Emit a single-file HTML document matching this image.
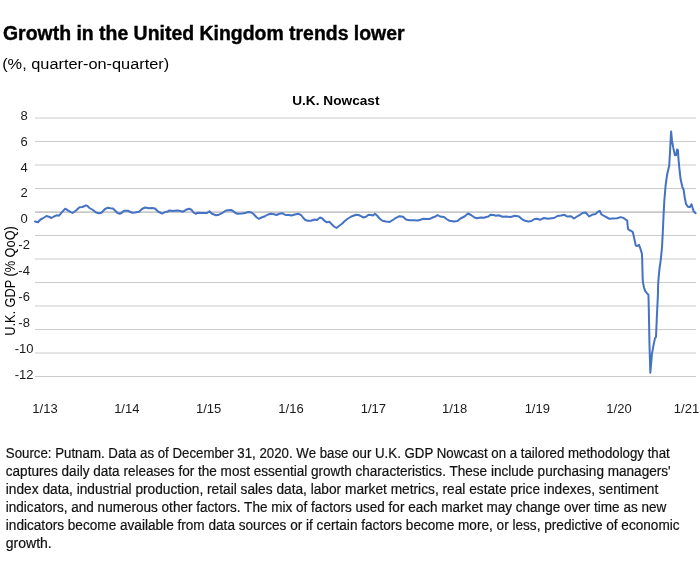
<!DOCTYPE html>
<html><head><meta charset="utf-8"><style>
html,body{margin:0;padding:0;background:#fff;width:700px;height:580px;overflow:hidden}
svg{display:block;will-change:transform}
text{font-family:"Liberation Sans",sans-serif;fill:#000}
.ax{font-size:13px;fill:#1a1a1a}
.ft{font-size:14px;fill:#111;stroke:#111;stroke-width:0.2px}
</style></head><body>
<svg width="700" height="580" viewBox="0 0 700 580">
<text x="3" y="39.5" font-size="19.5" font-weight="bold" stroke="#000" stroke-width="0.4" textLength="401.6" lengthAdjust="spacingAndGlyphs">Growth in the United Kingdom trends lower</text>
<text x="2.2" y="69.4" font-size="15.5" fill="#1a1a1a" textLength="167" lengthAdjust="spacingAndGlyphs">(%, quarter-on-quarter)</text>
<text x="292.2" y="105.4" font-size="12.8" font-weight="bold" textLength="87.3" lengthAdjust="spacingAndGlyphs">U.K. Nowcast</text>
<line x1="35" x2="696" y1="118.00" y2="118.00" stroke="#CCCCCC" stroke-width="1.2"/><line x1="35" x2="696" y1="141.50" y2="141.50" stroke="#CCCCCC" stroke-width="1.2"/><line x1="35" x2="696" y1="165.00" y2="165.00" stroke="#CCCCCC" stroke-width="1.2"/><line x1="35" x2="696" y1="188.50" y2="188.50" stroke="#CCCCCC" stroke-width="1.2"/><line x1="35" x2="696" y1="212.1" y2="212.1" stroke="#C8C8C8" stroke-width="1.7"/><line x1="35" x2="696" y1="235.50" y2="235.50" stroke="#CCCCCC" stroke-width="1.2"/><line x1="35" x2="696" y1="259.00" y2="259.00" stroke="#CCCCCC" stroke-width="1.2"/><line x1="35" x2="696" y1="282.50" y2="282.50" stroke="#CCCCCC" stroke-width="1.2"/><line x1="35" x2="696" y1="306.00" y2="306.00" stroke="#CCCCCC" stroke-width="1.2"/><line x1="35" x2="696" y1="329.50" y2="329.50" stroke="#CCCCCC" stroke-width="1.2"/><line x1="35" x2="696" y1="353.00" y2="353.00" stroke="#CCCCCC" stroke-width="1.2"/><line x1="35" x2="696" y1="376.50" y2="376.50" stroke="#CCCCCC" stroke-width="1.2"/>
<text x="24.1" y="119.55" text-anchor="middle" class="ax">8</text><text x="24.1" y="145.53" text-anchor="middle" class="ax">6</text><text x="24.1" y="171.51" text-anchor="middle" class="ax">4</text><text x="24.1" y="197.49" text-anchor="middle" class="ax">2</text><text x="24.1" y="223.47" text-anchor="middle" class="ax">0</text><text x="24.1" y="249.45" text-anchor="middle" class="ax">-2</text><text x="24.1" y="275.43" text-anchor="middle" class="ax">-4</text><text x="24.1" y="301.41" text-anchor="middle" class="ax">-6</text><text x="24.1" y="327.39" text-anchor="middle" class="ax">-8</text><text x="24.1" y="353.37" text-anchor="middle" class="ax">-10</text><text x="24.1" y="379.35" text-anchor="middle" class="ax">-12</text>
<text x="45.0" y="412.6" text-anchor="middle" class="ax">1/13</text><text x="126.8" y="412.6" text-anchor="middle" class="ax">1/14</text><text x="208.7" y="412.6" text-anchor="middle" class="ax">1/15</text><text x="291.0" y="412.6" text-anchor="middle" class="ax">1/16</text><text x="373.4" y="412.6" text-anchor="middle" class="ax">1/17</text><text x="454.7" y="412.6" text-anchor="middle" class="ax">1/18</text><text x="537.3" y="412.6" text-anchor="middle" class="ax">1/19</text><text x="619.0" y="412.6" text-anchor="middle" class="ax">1/20</text><text x="686.5" y="412.6" text-anchor="middle" class="ax">1/21</text>
<text transform="translate(14.9 335.8) rotate(-90)" x="0" y="0" font-size="14" fill="#1a1a1a" textLength="109.6" lengthAdjust="spacingAndGlyphs">U.K. GDP (% QoQ)</text>
<path d="M35 221.5 L38 222.2 L40.5 219.5 L42.5 218.5 L46.5 216 L49.5 217 L51.5 218 L54 216.5 L56.5 215.3 L59 215.7 L62 212.2 L65.2 208.7 L67.5 210.2 L69.5 211.3 L72.5 213 L76 210.5 L79.5 207.3 L82.5 207 L86 205.3 L87.2 205.8 L89.5 208 L93 210 L96 212.5 L99 213.3 L101.5 212.8 L105 209 L108 207.7 L110.5 208.3 L113 208.5 L115.5 211 L117.5 213 L120 213.7 L121.5 213 L124 210.8 L128 210.7 L130 211.8 L132.5 212.8 L135 212.5 L139 211.8 L142 209 L145 207.5 L149 208.2 L152 208 L155 208.5 L158 211.5 L161 213 L162.5 213.5 L165 212 L167 211.8 L169.5 210.5 L173 211 L177 210.5 L180.5 211 L183 211.7 L186 209.8 L189 208.8 L191.5 209.8 L193.5 212.5 L195.5 213.7 L198 212.8 L202 213 L207 213 L209.5 211.3 L212 213.8 L216 215.3 L219 214.7 L222 213.2 L225.5 210.7 L228 210.2 L231 210 L233 211 L235 212.8 L237.5 213.8 L242 213.5 L245 213 L248.5 212 L251.5 212.5 L254 214.5 L256.5 217.2 L258.8 218.8 L261.5 217.5 L265 216.2 L268 214.5 L271 213.8 L274 214.2 L276.5 215 L279.5 213.8 L282.5 213.3 L285.5 215 L289 215 L291.5 215.5 L293 215 L296 214.2 L298.5 213.8 L301 215 L303 217.5 L305 219.8 L307.5 220.8 L311 220.8 L314.5 219.5 L317 220 L320 217.5 L322 218.2 L324.5 220.8 L327 222.3 L329.5 221.8 L331.5 224 L334 226.5 L336.5 228 L339 226 L342 223.8 L345 220.8 L348 218.5 L352 216.2 L356 214.8 L358.5 215 L361 216.2 L363.5 217.5 L366 216.8 L368.5 214.8 L371 215 L373 215.5 L375 213.8 L377 215.5 L379.5 218.5 L382.5 220.8 L386 221.5 L389.5 222 L392.5 220.2 L396 217.8 L399.5 216.2 L403 216.8 L406 219.5 L409.5 220.2 L414 220.2 L418 220.5 L422 219.2 L423.5 218.8 L427 219 L429.5 219 L432 217.8 L435.5 216.5 L437.5 215 L440 216.5 L444 217 L446.5 219 L449.5 220.8 L454 221.5 L457.5 221 L460.5 218.5 L464.5 216.5 L468 213.5 L471 215 L474.5 217.5 L477 218.2 L480.5 217.5 L484 217.8 L487 216.8 L488.5 216.5 L490.5 214.8 L493.5 215 L496 215.8 L498.5 215.2 L502.5 216.8 L506 216.5 L510.5 217 L515 215.8 L519 216.5 L522 219.2 L525 220.8 L528.5 221.5 L531.5 221 L534 219.2 L537 218.8 L540 219.8 L544 218 L548 218.8 L551.5 218.2 L554 218 L557.5 216 L561 215.5 L564.5 214.8 L567 216.5 L571 216.2 L574 218.5 L577 216.5 L580 214.8 L582.5 213 L585.5 212.5 L587.5 214.5 L589 216.5 L592 214.8 L595.5 214 L598 211.8 L599.8 210.8 L601.5 214.5 L604.5 216.2 L607 217.5 L609.5 218.8 L613 218.5 L617 218.2 L620.7 217.1 L623.3 217.9 L625.3 219.3 L627.2 220.5 L627.6 225.2 L628.1 229 L629.5 230.3 L631 230.8 L632.8 232.1 L633.6 235.5 L634.6 240.1 L635.7 245.3 L636.9 246.1 L639 244.8 L640.3 248.4 L641.9 253.6 L642.2 258.7 L642.6 276.6 L642.9 282.2 L644.1 287.8 L645.3 291.2 L647.1 293.4 L648.4 294.8 L648.6 299.8 L649.1 324.3 L649.5 345.8 L650 361.4 L650.3 372.7 L650.9 366.5 L651.9 354.1 L653.4 345.9 L655 338.1 L656 337.1 L656.9 316 L657.9 295 L658.1 285.2 L658.7 276.6 L659.6 267.9 L660.7 260.2 L662 247.6 L662.8 232.1 L663.5 216.6 L664.3 201.1 L665.6 185.5 L667.1 174.7 L667.8 171.7 L669.2 165.5 L669.9 154.1 L670.6 140.7 L671.1 131.4 L672 140.7 L673.3 147.9 L674.9 155.2 L676.1 155.2 L677.1 149.5 L677.9 150 L678.5 159.3 L679.4 168.6 L680.6 179.3 L682.2 186.3 L683.7 190.2 L684.8 198 L686.1 204.2 L688.1 207 L689.9 207 L691.5 204.2 L692.6 208 L693.8 211.6 L695.7 213.2" fill="none" stroke="#4472C4" stroke-width="2" stroke-linejoin="round" stroke-linecap="round"/>
<text x="5.8" y="458.30" class="ft" textLength="664" lengthAdjust="spacingAndGlyphs">Source: Putnam. Data as of December 31, 2020. We base our U.K. GDP Nowcast on a tailored methodology that</text><text x="5.8" y="476.30" class="ft" textLength="664.8" lengthAdjust="spacingAndGlyphs">captures daily data releases for the most essential growth characteristics. These include purchasing managers'</text><text x="5.8" y="494.30" class="ft" textLength="652.4" lengthAdjust="spacingAndGlyphs">index data, industrial production, retail sales data, labor market metrics, real estate price indexes, sentiment</text><text x="5.8" y="512.30" class="ft" textLength="660.5" lengthAdjust="spacingAndGlyphs">indicators, and numerous other factors. The mix of factors used for each market may change over time as new</text><text x="5.8" y="530.30" class="ft" textLength="673.8" lengthAdjust="spacingAndGlyphs">indicators become available from data sources or if certain factors become more, or less, predictive of economic</text><text x="5.8" y="548.30" class="ft">growth.</text>
</svg>
</body></html>
